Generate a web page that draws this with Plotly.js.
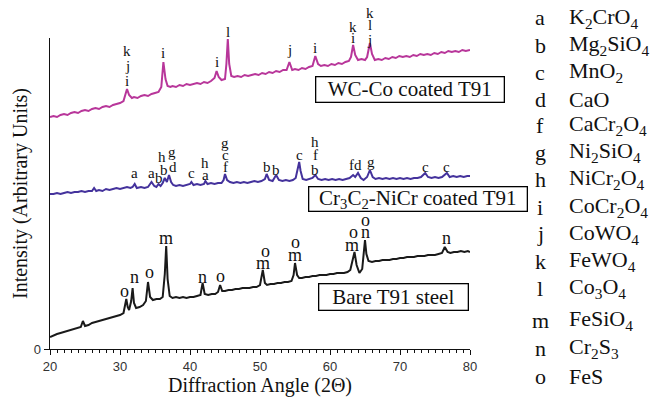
<!DOCTYPE html>
<html>
<head>
<meta charset="utf-8">
<script src="https://cdn.plot.ly/plotly-3.0.1.min.js"></script>
<style>html,body{margin:0;padding:0;background:#fff;}#chart{width:656px;height:402px;}</style>
</head>
<body>
<div id="chart"></div>
<script>
// ---------- data ----------
const angleWC = [20.0,20.5,21.0,21.5,22.0,22.5,23.0,23.5,24.0,24.5,25.0,25.5,26.0,26.5,27.0,27.5,28.0,28.5,29.0,29.5,30.0,30.5,30.8,31.0,31.3,31.7,32.0,32.5,33.0,33.5,34.0,34.5,35.0,35.5,35.9,36.2,36.5,36.8,37.2,37.5,38.0,38.5,39.0,39.5,40.0,40.5,41.0,41.5,42.0,42.5,43.0,43.5,43.8,44.1,44.5,45.0,45.2,45.4,45.6,45.9,46.3,46.8,47.3,47.8,48.3,48.8,49.3,49.8,50.3,50.8,51.3,51.8,52.3,52.8,53.3,53.8,54.2,54.6,55.0,55.5,56.0,56.5,57.0,57.5,57.9,58.3,58.7,59.2,59.7,60.2,60.7,61.2,61.7,62.2,62.7,63.0,63.3,63.6,64.0,64.5,65.0,65.3,65.7,66.0,66.4,66.9,67.4,67.9,68.4,68.9,69.4,69.9,70.4,70.9,71.4,71.9,72.4,72.9,73.4,73.9,74.4,74.9,75.4,75.9,76.4,76.9,77.4,77.9,78.4,78.9,79.4,80.0];
const intWC = [232,233,232,234,235,234,236,237,236,238,239,238,240,241,240,242,243,242,244,245,246,248,254,260,254,251,252,251,253,254,253,255,256,257,262,287,270,263,262,263,262,264,263,265,264,265,266,265,267,266,268,271,278,272,269,270,285,310,285,273,272,273,272,274,273,274,275,274,276,275,277,276,278,277,279,279,287,279,280,279,281,280,282,283,293,285,283,284,283,285,284,286,285,287,288,292,304,294,289,290,289,292,306,295,289,290,289,291,290,292,291,293,292,293,292,294,293,295,294,295,294,296,295,297,296,298,297,298,297,299,298,299];

const angleCr = [20.0,20.5,21.0,21.5,22.0,22.5,23.0,23.5,24.0,24.5,25.0,25.5,26.0,26.3,26.6,27.0,27.5,28.0,28.5,29.0,29.5,30.0,30.5,31.0,31.5,31.8,32.1,32.4,33.0,33.5,34.0,34.5,34.9,35.2,35.5,35.8,36.1,36.4,36.7,37.0,37.3,37.6,38.0,38.5,39.0,39.5,40.0,40.2,40.5,41.0,41.5,42.0,42.2,42.5,43.0,43.5,44.0,44.5,44.8,45.0,45.3,45.7,46.2,46.7,47.2,47.7,48.2,48.7,49.2,49.7,50.2,50.7,50.95,51.3,51.8,52.3,52.7,53.2,53.7,54.2,54.7,55.1,55.4,55.6,55.8,56.1,56.6,57.1,57.5,57.9,58.3,58.8,59.3,59.8,60.3,60.8,61.3,61.8,62.3,62.8,63.3,63.6,64.0,64.4,64.8,65.3,65.7,66.1,66.5,67.0,67.5,68.0,68.5,69.0,69.5,70.0,70.5,71.0,71.5,72.0,72.5,73.0,73.6,74.0,74.5,75.0,75.5,76.0,76.7,77.1,77.6,78.1,78.6,79.1,79.6,80.0];
const intCr = [155,155,156,155,156,157,156,157,157,158,157,158,158,161,158,159,158,160,159,160,161,160,161,162,161,162,165,161,162,161,162,167,163,162,165,163,166,171,167,174,167,164,163,164,163,164,165,167,164,165,164,165,168,165,166,165,166,166,169,175,169,167,166,167,166,167,166,167,168,167,168,170,175,169,168,174,169,168,169,168,169,171,180,187,178,170,169,170,171,174,170,169,170,169,170,169,170,169,170,171,174,172,176,171,169,172,179,172,170,171,170,171,170,171,170,171,170,171,170,171,171,172,176,172,171,172,171,172,176,172,173,172,173,172,173,173];

const angleBare = [20.0,20.3,20.6,21.0,21.5,22.0,22.5,23.0,23.5,24.0,24.4,24.7,25.0,25.5,26.0,26.5,27.0,27.5,28.0,28.5,29.0,29.5,30.0,30.5,30.7,30.9,31.1,31.3,31.6,31.8,32.0,32.3,32.8,33.3,33.7,34.0,34.3,34.7,35.2,35.7,36.1,36.4,36.6,36.8,37.1,37.5,38.0,38.5,39.0,39.5,40.0,40.5,41.0,41.5,41.8,42.1,42.6,43.1,43.6,44.0,44.3,44.6,45.0,45.5,46.0,46.5,47.0,47.5,48.0,48.5,49.0,49.5,50.0,50.4,50.7,51.0,51.5,52.0,52.5,53.0,53.5,54.0,54.5,54.8,55.0,55.3,55.6,56.0,56.5,57.0,57.5,58.0,58.5,59.0,59.5,60.0,60.5,61.0,61.5,62.0,62.5,62.9,63.2,63.5,63.8,64.2,64.6,64.8,65.0,65.2,65.5,66.0,66.5,67.0,67.5,68.0,68.5,69.0,69.5,70.0,70.5,71.0,71.5,72.0,72.5,73.0,73.5,74.0,74.5,75.0,75.5,76.0,76.4,76.8,77.2,77.7,78.2,78.7,79.2,79.7,80.0];
const intBare = [12,13,14,15,16,17,18,19,20,21,22,28,23,24,26,27,28,29,30,31,32,33,34,36,42,50,42,39,48,61,46,41,42,44,48,67,52,49,50,50,52,75,103,70,53,51,52,51,52,51,52,52,53,54,66,55,54,55,55,57,64,58,58,59,59,60,60,61,61,61,62,62,64,79,66,64,65,65,66,66,67,67,68,74,86,74,71,71,72,72,73,73,74,74,74,75,75,76,76,76,77,79,88,97,84,76,80,95,109,95,88,87,88,88,89,89,89,90,90,91,91,92,92,92,93,93,93,94,94,94,95,96,102,97,96,97,97,98,97,98,97];

// peak labels (angle, height in intensity units)
const lblWCText  = ['i','j','k','i','i','l','j','i','i','k','j','l','k'];
const lblWCAngle = [31.0,31.0,31.0,36.2,43.8,45.4,54.2,57.9,63.3,63.3,65.7,65.7,65.7];
const lblWCY     = [268,283,298,296,287,317,299,301,311,322,309,324,336];

const lblCrText  = ['a','a','b','h','b','g','d','c','h','a','g','c','f','b','b','c','h','f','b','f','d','g','c','c'];
const lblCrAngle = [32.1,34.5,35.5,35.95,36.3,37.4,37.5,40.2,42.2,42.2,45.0,45.0,45.0,50.95,52.3,55.6,57.9,57.9,57.9,63.1,64.0,65.8,73.6,76.7];
const lblCrY     = [176,176,171,192,179,197,182,176,186,174,206,194,182,182,179,194,207,194,179,184,184,187,182,182];

const lblBareText  = ['o','n','o','m','n','o','m','o','m','o','m','o','n','o','n'];
const lblBareAngle = [30.7,32.1,34.2,36.6,41.8,44.3,50.4,50.8,55.0,55.1,63.1,63.4,65.0,65.0,76.6];
const lblBareY     = [58,72,77,111,72,73,86,98,94,107,104,117,117,129,111];

// phase key
const keyLetters = ['a','b','c','d','f','g','h','i','j','k','l','m','n','o'];
const keyNames = ['K<sub>2</sub>CrO<sub>4</sub>','Mg<sub>2</sub>SiO<sub>4</sub>','MnO<sub>2</sub>','CaO','CaCr<sub>2</sub>O<sub>4</sub>','Ni<sub>2</sub>SiO<sub>4</sub>','NiCr<sub>2</sub>O<sub>4</sub>','CoCr<sub>2</sub>O<sub>4</sub>','CoWO<sub>4</sub>','FeWO<sub>4</sub>','Co<sub>3</sub>O<sub>4</sub>','FeSiO<sub>4</sub>','Cr<sub>2</sub>S<sub>3</sub>','FeS'];

const sampleNames = ['WC-Co coated T91','Cr<sub>3</sub>C<sub>2</sub>-NiCr coated T91','Bare T91 steel'];

// ---------- chart ----------
const SERIF = 'Liberation Serif, Times New Roman, serif';
const SANS = 'Liberation Sans, Arial, sans-serif';
const Y_MAX = 311;

const traces = [
  {x: angleWC, y: intWC, mode: 'lines', line: {color: '#b8369a', width: 2}, hoverinfo: 'skip'},
  {x: angleCr, y: intCr, mode: 'lines', line: {color: '#44329c', width: 2}, hoverinfo: 'skip'},
  {x: angleBare, y: intBare, mode: 'lines', line: {color: '#1a1a1a', width: 2}, hoverinfo: 'skip'}
];

const ann = [];
function addLabels(texts, angles, ys, size) {
  texts.forEach((t, i) => ann.push({
    x: angles[i], y: ys[i] / Y_MAX, xref: 'x', yref: 'paper', text: t, showarrow: false,
    xanchor: 'center', yanchor: 'middle', font: {family: SERIF, size: size, color: '#111'}
  }));
}
addLabels(lblWCText, lblWCAngle, lblWCY, 15);
addLabels(lblCrText, lblCrAngle, lblCrY, 15);
addLabels(lblBareText, lblBareAngle, lblBareY, 18);

// sample boxes (paper coords)
const boxPos = [
  {x: 0.8583, y: 0.8328, w: 187, h: 24},
  {x: 0.875, y: 0.4839, w: 217, h: 23},
  {x: 0.8167, y: 0.1688, w: 148, h: 25}
];
sampleNames.forEach((t, i) => ann.push({
  x: boxPos[i].x, y: boxPos[i].y, xref: 'paper', yref: 'paper', text: t, showarrow: false,
  xanchor: 'center', yanchor: 'middle', width: boxPos[i].w, height: boxPos[i].h, align: 'center',
  bordercolor: '#000', borderwidth: 1.3, borderpad: 0, bgcolor: 'rgba(255,255,255,0)',
  font: {family: SERIF, size: 21, color: '#111'}
}));

// key on the right
const keyRowsPx = [18,45,72,99,125,152,179,207,234,261,288,320,348,376];
keyLetters.forEach((l, i) => {
  const yp = (349 - keyRowsPx[i]) / 311;
  ann.push({x: (540 - 50) / 420, y: yp, xref: 'paper', yref: 'paper', text: l, showarrow: false,
    xanchor: 'center', yanchor: 'middle', font: {family: SERIF, size: 22, color: '#111'}});
  ann.push({x: (567 - 50) / 420, y: yp, xref: 'paper', yref: 'paper', text: keyNames[i], showarrow: false,
    xanchor: 'left', yanchor: 'middle', font: {family: SERIF, size: 22, color: '#111'}});
});

const layout = {
  width: 656, height: 402,
  margin: {l: 50, r: 186, t: 38, b: 53, pad: 0},
  paper_bgcolor: '#fff', plot_bgcolor: '#fff',
  showlegend: false,
  xaxis: {
    range: [20, 80], dtick: 10, tick0: 20, showgrid: false, zeroline: false,
    showline: true, linecolor: '#111', linewidth: 1.3,
    ticks: 'outside', ticklen: 5, tickwidth: 1, tickcolor: '#111',
    minor: {dtick: 1, ticks: 'outside', ticklen: 3, tickwidth: 1, tickcolor: '#111', showgrid: false},
    tickfont: {family: SANS, size: 13, color: '#333'},
    title: {text: 'Diffraction Angle (2\u0398)', font: {family: SERIF, size: 20, color: '#111'}, standoff: 5},
    automargin: false
  },
  yaxis: {
    range: [0, Y_MAX], tickvals: [0], ticktext: ['0'], showgrid: false, zeroline: false,
    showline: true, linecolor: '#111', linewidth: 1.3,
    ticks: 'outside', ticklen: 5, tickwidth: 1, tickcolor: '#111',
    tickfont: {family: SANS, size: 13, color: '#333'},
    title: {text: 'Intensity (Arbitrary Units)', font: {family: SERIF, size: 20, color: '#111'}, standoff: 1},
    automargin: false
  },
  annotations: ann
};

Plotly.newPlot('chart', traces, layout, {displayModeBar: false, staticPlot: true});
</script>
</body>
</html>
